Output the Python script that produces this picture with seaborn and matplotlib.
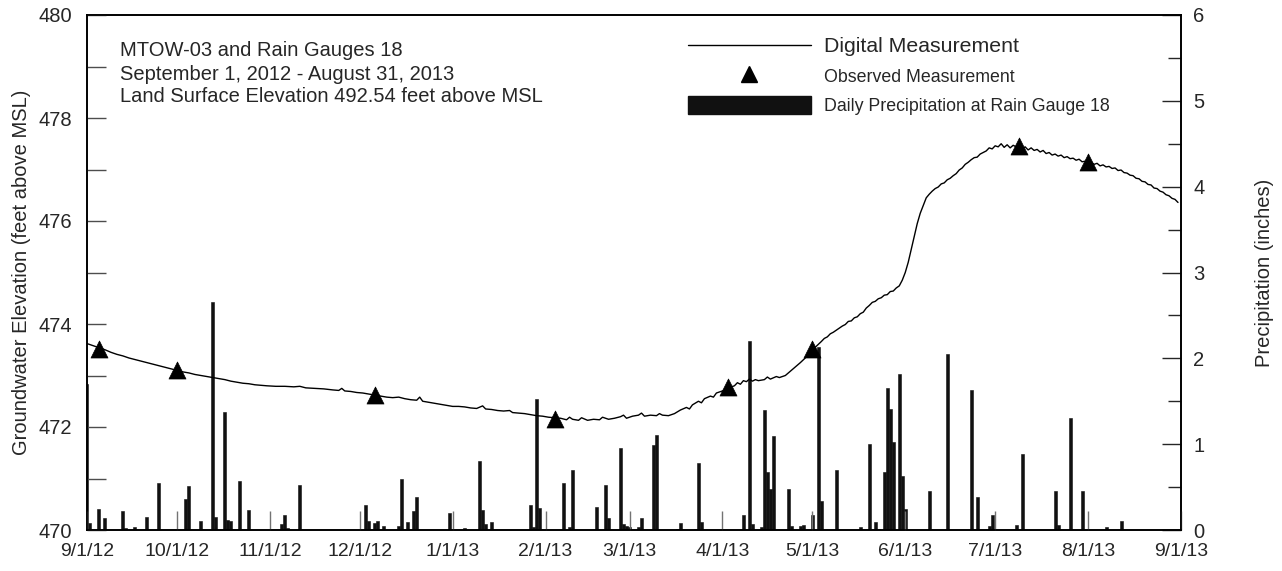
import matplotlib
matplotlib.use("Agg")
import matplotlib.pyplot as plt
from matplotlib.lines import Line2D
from matplotlib.patches import Patch
from matplotlib.ticker import MultipleLocator, FixedLocator
import matplotlib.dates as mdates
import numpy as np
import pandas as pd
import seaborn as sns

# ---------------- data (days since 9/1/2012) ----------------
gw_day = [0, 2, 4, 6, 8, 10, 12, 14, 16, 18, 20, 22, 24, 26, 28, 30, 32, 34, 36, 38,
          40, 42, 44, 46, 48, 50, 52, 54, 56, 58, 60, 63, 66, 69, 71, 73, 76, 79, 82, 84,
          85, 86, 88, 90, 92, 94, 96, 98, 100, 102, 104, 106, 108, 110, 111, 112, 114, 116, 118, 120,
          122, 124, 126, 128, 130, 132, 133, 135, 137, 139, 141, 142, 144, 146, 148, 150, 152, 154, 156, 158,
          160, 161, 162, 164, 165, 167, 169, 171, 172, 174, 176, 178, 179, 180, 182, 184, 185, 186, 188, 190,
          191, 192, 194, 196, 198, 200, 201, 202, 204, 205, 206, 208, 209, 210, 212, 214, 216, 217, 218, 219,
          220, 221, 222, 223, 224, 226, 227, 228, 230, 231, 233, 234, 236, 238, 240, 242, 243,
          245, 246, 247, 248, 249, 250, 251, 252, 253, 254, 255, 256, 257, 258, 259, 260, 261, 262, 263, 264,
          265, 266, 267, 268, 269, 270, 271, 272, 273, 274, 275, 276, 277, 278, 279,
          280, 281, 282, 283, 284, 285, 286, 287, 288, 289, 290, 291, 292, 293, 294, 295, 296, 297, 298, 299,
          300, 301, 302, 303, 304, 305, 306, 307, 308, 309, 310, 311, 312, 313, 314, 315, 316, 317, 318, 319,
          320, 321, 322, 323, 324, 325, 326, 327, 328, 329, 330, 331, 332, 333, 334, 335, 336, 337, 338, 339,
          340, 341, 342, 343, 344, 345, 346, 347, 348, 349, 350, 351, 352, 353, 354, 355, 356, 357, 358, 359,
          360, 361, 362, 363, 364]
gw_elev = [473.62, 473.58, 473.54, 473.50, 473.45, 473.41, 473.38, 473.34, 473.31, 473.28, 473.25, 473.22, 473.19, 473.16, 473.13, 473.10, 473.07, 473.05, 473.02, 473.00,
           472.98, 472.96, 472.94, 472.92, 472.89, 472.87, 472.85, 472.84, 472.82, 472.81, 472.80, 472.79, 472.79, 472.78, 472.79, 472.76, 472.75, 472.74, 472.72, 472.71,
           472.75, 472.70, 472.69, 472.67, 472.66, 472.64, 472.62, 472.60, 472.58, 472.57, 472.58, 472.55, 472.53, 472.52, 472.58, 472.50, 472.48, 472.46, 472.44, 472.42,
           472.40, 472.40, 472.39, 472.37, 472.36, 472.41, 472.35, 472.34, 472.32, 472.31, 472.32, 472.28, 472.27, 472.26, 472.24, 472.22, 472.21, 472.19, 472.18, 472.17,
           472.14, 472.19, 472.15, 472.13, 472.18, 472.13, 472.15, 472.14, 472.19, 472.15, 472.17, 472.20, 472.23, 472.17, 472.21, 472.23, 472.27, 472.21, 472.23, 472.22,
           472.26, 472.23, 472.22, 472.26, 472.33, 472.38, 472.35, 472.43, 472.50, 472.47, 472.55, 472.60, 472.58, 472.66, 472.70, 472.76, 472.80, 472.86, 472.83, 472.90,
           472.88, 472.93, 472.89, 472.92, 472.90, 472.92, 472.97, 472.93, 472.98, 472.96, 473.00, 473.05, 473.15, 473.25, 473.36, 473.50, 473.55,
           473.66, 473.72, 473.75, 473.81, 473.84, 473.88, 473.92, 473.96, 473.99, 474.05, 474.06, 474.12, 474.14, 474.20, 474.23, 474.31, 474.36, 474.42, 474.44, 474.49,
           474.51, 474.56, 474.57, 474.63, 474.64, 474.70, 474.74, 474.85, 475.00, 475.20, 475.45, 475.70, 475.95, 476.15, 476.30,
           476.45, 476.52, 476.58, 476.63, 476.66, 476.72, 476.74, 476.80, 476.83, 476.88, 476.92, 476.99, 477.03, 477.10, 477.14, 477.19, 477.23, 477.24, 477.30, 477.33,
           477.36, 477.42, 477.40, 477.46, 477.44, 477.50, 477.43, 477.48, 477.42, 477.47, 477.44, 477.46, 477.40, 477.44, 477.38, 477.42, 477.37, 477.39, 477.34, 477.37,
           477.31, 477.33, 477.28, 477.30, 477.26, 477.28, 477.23, 477.25, 477.21, 477.22, 477.18, 477.20, 477.15, 477.16, 477.13, 477.14, 477.10, 477.12, 477.07, 477.09,
           477.05, 477.06, 477.02, 477.03, 476.98, 476.99, 476.94, 476.93, 476.89, 476.88, 476.83, 476.82, 476.77, 476.76, 476.71, 476.70, 476.64, 476.63, 476.58, 476.56,
           476.51, 476.49, 476.44, 476.42, 476.36]

obs_day = [4, 30, 96, 156, 214, 242, 311, 334]
obs_elev = [473.52, 473.10, 472.62, 472.16, 472.77, 473.52, 477.45, 477.14]

rain_day = [0, 1, 4, 6, 12, 13, 16, 20, 24, 33, 34, 38, 42, 43, 46, 47, 48, 51, 54,
            65, 66, 67, 71, 93, 94, 96, 97, 99, 104, 105, 107, 109, 110, 121,
            126, 131, 132, 133, 135, 148, 149, 150, 151, 159, 161, 162, 170, 173, 174, 178, 179, 180, 181, 184, 185,
            189, 190, 197, 198, 203, 204, 205, 219, 221, 222, 225, 226, 227, 228, 229, 234, 235, 238, 239,
            242, 244, 245, 250, 258, 261, 263, 264, 266, 267, 268, 269, 271, 272, 273, 281, 287,
            295, 297, 301, 302, 310, 312, 323, 324, 328, 332, 340, 345]
rain_in = [1.70, 0.085, 0.25, 0.14, 0.22, 0.02, 0.03, 0.15, 0.55, 0.36, 0.51, 0.10, 2.66, 0.15, 1.37, 0.12, 0.10, 0.57, 0.23,
           0.07, 0.18, 0.02, 0.52, 0.29, 0.10, 0.08, 0.10, 0.05, 0.05, 0.59, 0.09, 0.22, 0.39, 0.20,
           0.02, 0.80, 0.23, 0.07, 0.09, 0.29, 0.03, 1.53, 0.26, 0.55, 0.04, 0.70, 0.27, 0.53, 0.14, 0.96, 0.07, 0.05, 0.04, 0.04, 0.14,
           0.99, 1.11, 0.01, 0.08, 0.01, 0.78, 0.09, 0.18, 2.20, 0.07, 0.03, 1.40, 0.68, 0.48, 1.09, 0.48, 0.05, 0.05, 0.06,
           0.17, 2.13, 0.34, 0.70, 0.04, 1.00, 0.09, 0.01, 0.68, 1.66, 1.41, 1.03, 1.82, 0.63, 0.24, 0.45, 2.05,
           1.63, 0.39, 0.05, 0.17, 0.06, 0.89, 0.46, 0.06, 1.30, 0.45, 0.03, 0.11]

x_tick_dates = ["2012-09-01", "2012-10-01", "2012-11-01", "2012-12-01", "2013-01-01", "2013-02-01", "2013-03-01",
                "2013-04-01", "2013-05-01", "2013-06-01", "2013-07-01", "2013-08-01", "2013-09-01"]
x_tick_labels = ["9/1/12", "10/1/12", "11/1/12", "12/1/12", "1/1/13", "2/1/13", "3/1/13",
                 "4/1/13", "5/1/13", "6/1/13", "7/1/13", "8/1/13", "9/1/13"]

info_lines = ["MTOW-03 and Rain Gauges 18",
              "September 1, 2012 - August 31, 2013",
              "Land Surface Elevation 492.54 feet above MSL"]
legend_labels = ["Digital Measurement", "Observed Measurement", "Daily Precipitation at Rain Gauge 18"]

# ---------------- build frames ----------------
start = pd.Timestamp("2012-09-01")
gw = pd.DataFrame({"date": start + pd.to_timedelta(gw_day, unit="D"), "elev": gw_elev})
obs = pd.DataFrame({"date": start + pd.to_timedelta(obs_day, unit="D"), "elev": obs_elev})
rain = pd.DataFrame({"date": start + pd.to_timedelta(rain_day, unit="D"), "inches": rain_in})
xt = pd.to_datetime(x_tick_dates)

# ---------------- figure ----------------
sns.set_theme(style="white")
plt.rcParams['font.family'] = ['Liberation Sans', 'DejaVu Sans']

W, H = 1282, 571
fig = plt.figure(figsize=(W / 100, H / 100), dpi=100)
L, R, T, B = 87, 1181, 15, 530
ax = fig.add_axes([L / W, 1 - B / H, (R - L) / W, (B - T) / H])
ax2 = ax.twinx()

# precipitation bars (right axis)
ax2.bar(rain["date"], rain["inches"], width=1.0, color="#111111", edgecolor="#111111",
        linewidth=0.4, align="center")
ax2.set_ylim(0, 6)

# groundwater (left axis), drawn on top
sns.lineplot(data=gw, x="date", y="elev", ax=ax, color="black", linewidth=1.0, zorder=3)
sns.scatterplot(data=obs, x="date", y="elev", ax=ax, marker="^", s=150, color="black",
                edgecolor="black", linewidth=0.5, zorder=4)
ax.set_zorder(ax2.get_zorder() + 1)
ax.patch.set_visible(False)

ax.set_ylim(470, 480)
ax.set_xlim(xt[0], xt[-1])

# x axis
ax.xaxis.set_major_locator(FixedLocator(mdates.date2num(xt)))
ax.set_xticklabels(x_tick_labels)
ax.set_xlabel("")
ax.tick_params(axis="x", direction="in", length=13.5, width=1.0, color="0.45",
               labelsize=14, pad=9, bottom=True, top=False)

# left axis
ax.yaxis.set_major_locator(MultipleLocator(2))
ax.yaxis.set_minor_locator(MultipleLocator(1))
ax.set_yticklabels([f"{int(v)}" for v in ax.get_yticks()])
ax.tick_params(axis="y", which="both", direction="in", length=14, width=1.0, color="0.3",
               labelsize=14.5, pad=11, left=True)
ax.set_ylabel("Groundwater Elevation (feet above MSL)", fontsize=14.5, labelpad=5)

# right axis
ax2.yaxis.set_major_locator(MultipleLocator(1))
ax2.yaxis.set_minor_locator(MultipleLocator(0.5))
ax2.tick_params(axis="y", which="major", direction="in", length=13.5, width=1.0, labelsize=14.5, pad=9)
ax2.tick_params(axis="y", which="minor", direction="in", length=9.5, width=1.0)
ax2.set_ylabel("Precipitation (inches)", fontsize=14.5, labelpad=36)
ax2.grid(False)
ax.grid(False)

for a in (ax, ax2):
    for s in a.spines.values():
        s.set_color("black")
        s.set_linewidth(1.2)

# info text
for i, line in enumerate(info_lines):
    fig.text(120 / W, 1 - (51 + 23 * i) / H, line, fontsize=14.5, va="center", ha="left")

# legend
handles = [Line2D([0], [0], color="black", linewidth=1.0),
           Line2D([0], [0], color="black", marker="^", linestyle="none", markersize=12),
           Patch(facecolor="#111111", edgecolor="#111111")]
leg = fig.legend(handles, legend_labels, loc="upper left",
                 bbox_to_anchor=(688 / W, 1 - 37 / H), frameon=False, fontsize=13,
                 handlelength=6.8, handleheight=1.2, handletextpad=0.75, labelspacing=0.55,
                 borderpad=0, borderaxespad=0)
sizes = [15.3, 12.8, 12.8]
for t, s in zip(leg.get_texts(), sizes):
    t.set_fontsize(s)

fig.savefig("out.png", dpi=100)
